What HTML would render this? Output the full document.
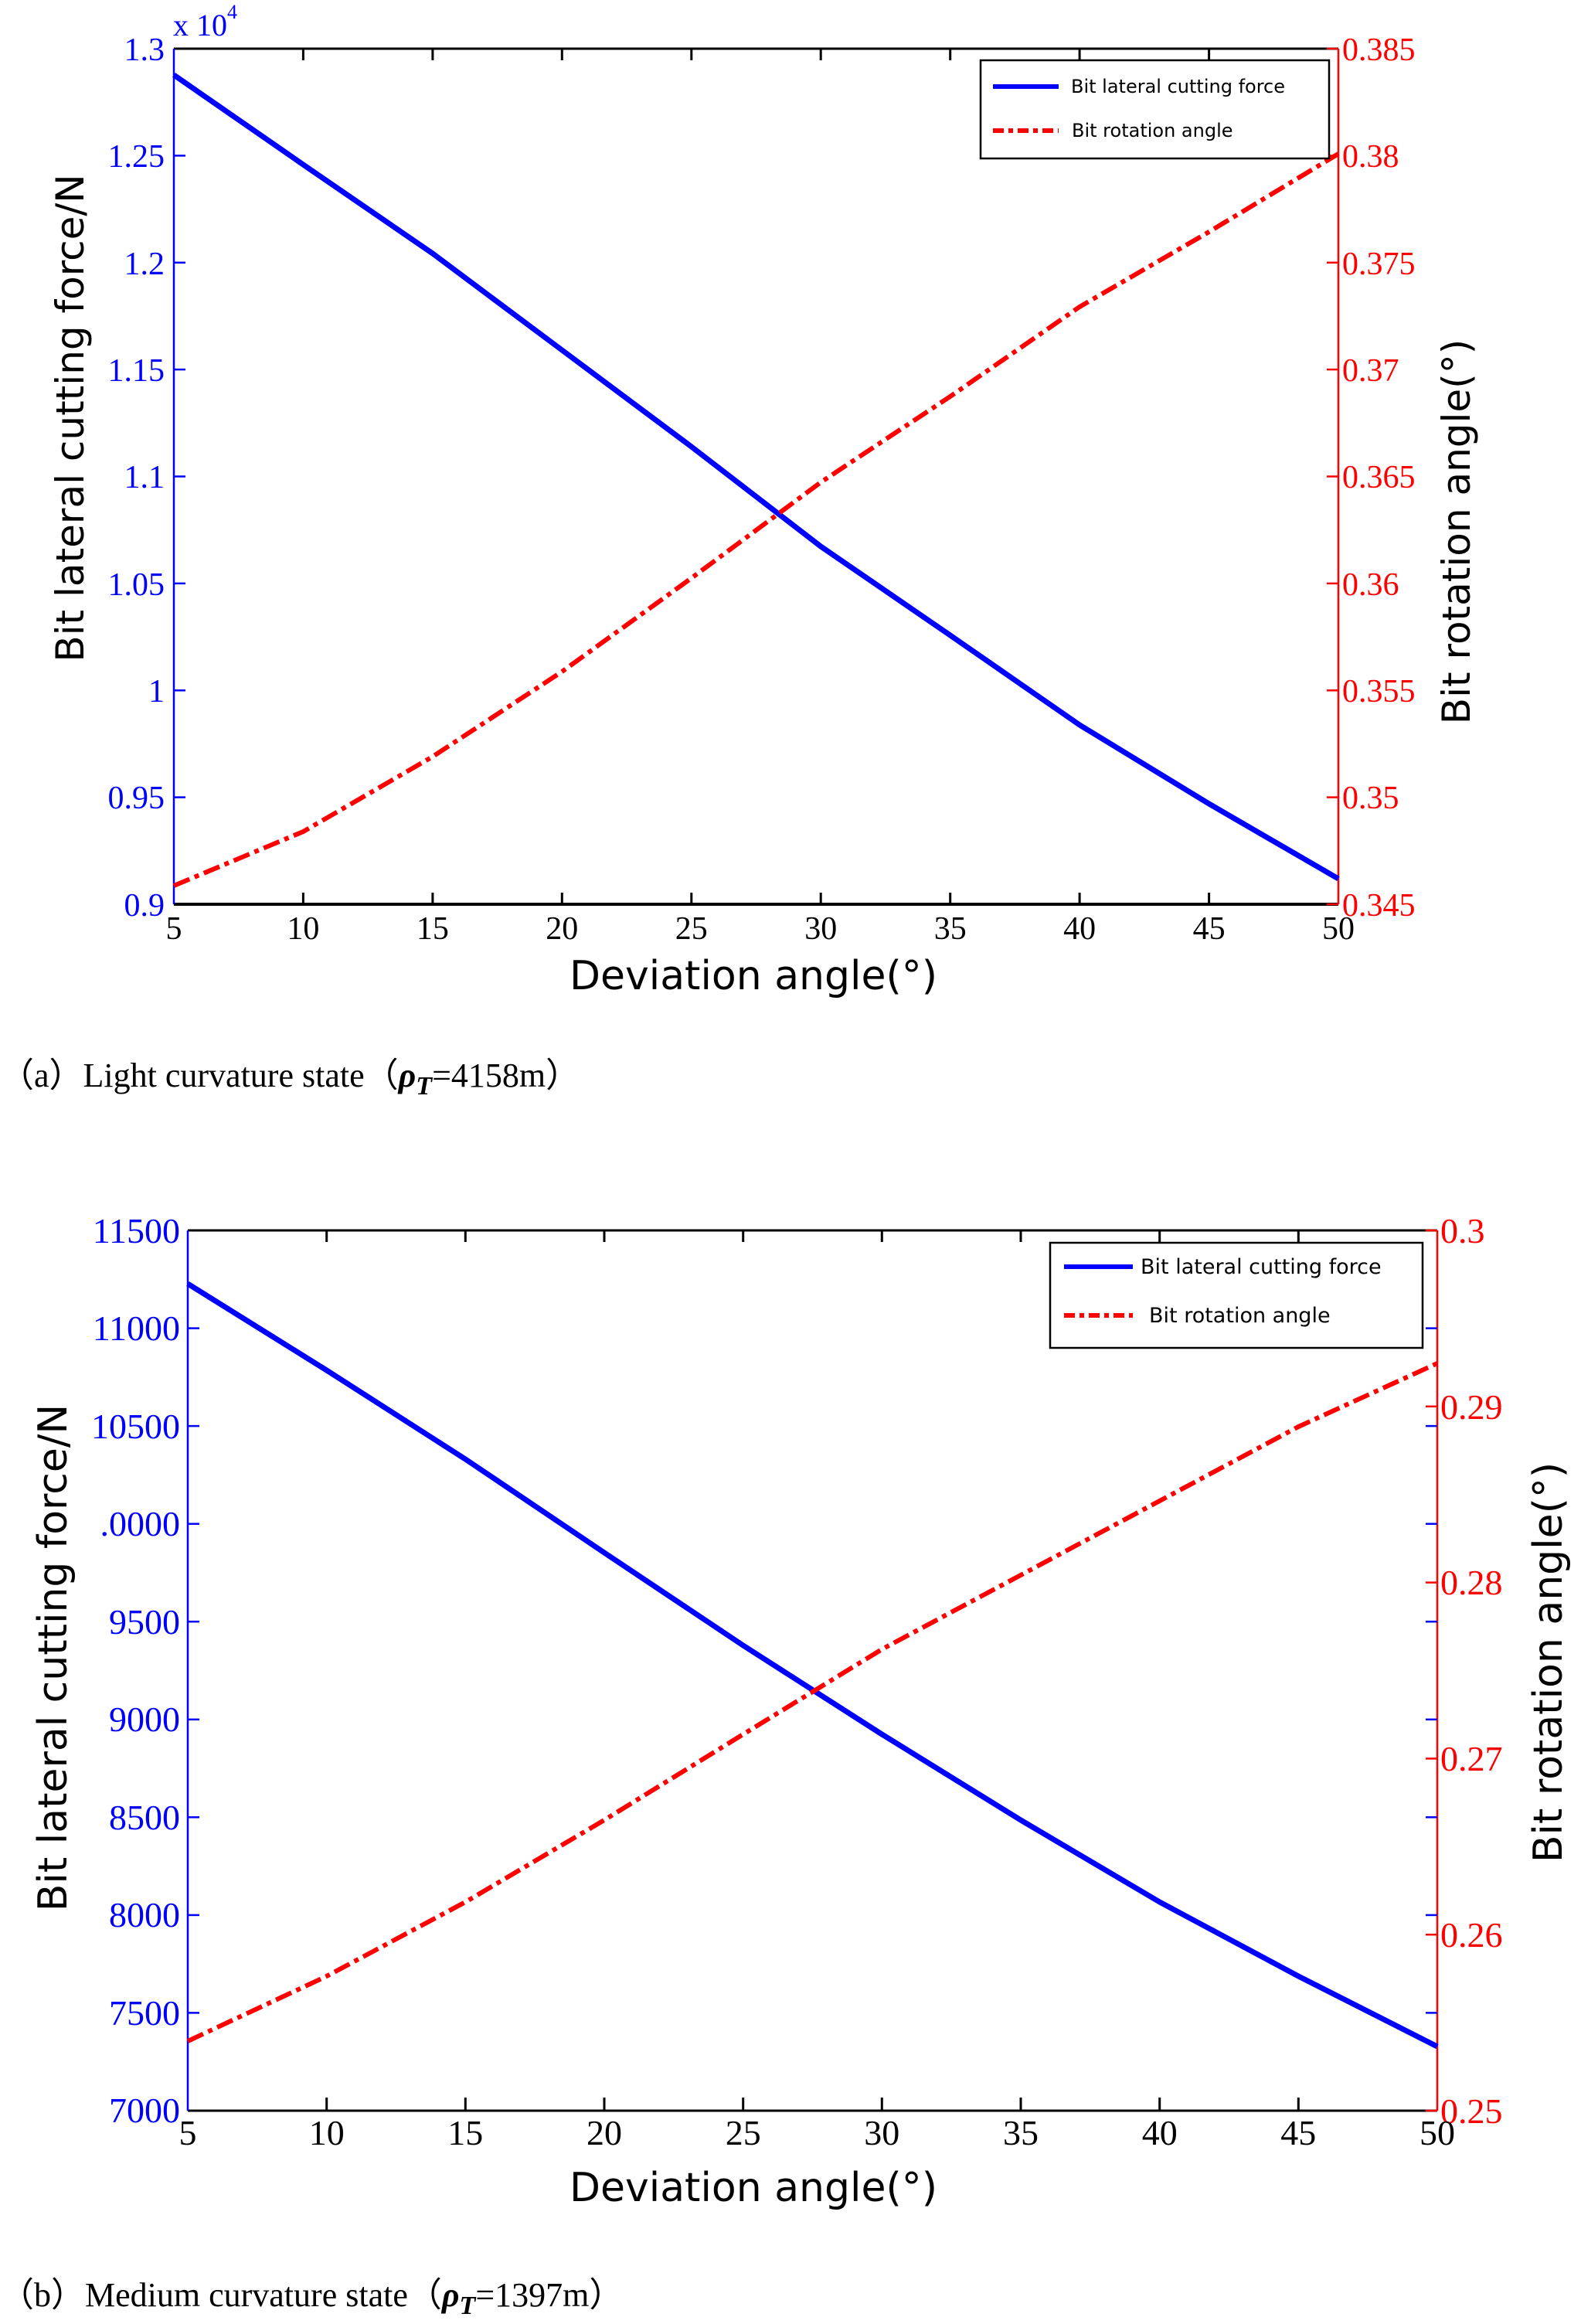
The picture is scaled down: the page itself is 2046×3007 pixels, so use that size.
<!DOCTYPE html>
<html><head><meta charset="utf-8"><style>
html,body{margin:0;padding:0;background:#fff;}
svg{display:block;}
.ser{font-family:"Liberation Serif",serif;}
.san{font-family:"DejaVu Sans","Liberation Sans",sans-serif;}
</style></head><body>
<svg width="2046" height="3007" viewBox="0 0 2046 3007" xmlns="http://www.w3.org/2000/svg">
<rect width="2046" height="3007" fill="#fff"/>

<!-- ===== Chart A ===== -->
<g>
<!-- axes -->
<line x1="225" y1="63" x2="1732" y2="63" stroke="#000" stroke-width="3"/>
<line x1="225" y1="1170" x2="1732" y2="1170" stroke="#000" stroke-width="4"/>
<line x1="225" y1="63" x2="225" y2="1170" stroke="#00f" stroke-width="2.5"/>
<line x1="1732" y1="63" x2="1732" y2="1170" stroke="#f00" stroke-width="2.5"/>
<!-- x ticks -->
<g stroke="#000" stroke-width="3">
<line x1="392.4" y1="63" x2="392.4" y2="78"/><line x1="559.9" y1="63" x2="559.9" y2="78"/><line x1="727.3" y1="63" x2="727.3" y2="78"/><line x1="894.8" y1="63" x2="894.8" y2="78"/><line x1="1062.2" y1="63" x2="1062.2" y2="78"/><line x1="1229.7" y1="63" x2="1229.7" y2="78"/><line x1="1397.1" y1="63" x2="1397.1" y2="78"/><line x1="1564.6" y1="63" x2="1564.6" y2="78"/>
<line x1="392.4" y1="1170" x2="392.4" y2="1155"/><line x1="559.9" y1="1170" x2="559.9" y2="1155"/><line x1="727.3" y1="1170" x2="727.3" y2="1155"/><line x1="894.8" y1="1170" x2="894.8" y2="1155"/><line x1="1062.2" y1="1170" x2="1062.2" y2="1155"/><line x1="1229.7" y1="1170" x2="1229.7" y2="1155"/><line x1="1397.1" y1="1170" x2="1397.1" y2="1155"/><line x1="1564.6" y1="1170" x2="1564.6" y2="1155"/>
</g>
<g stroke="#00f" stroke-width="2.5">
<line x1="225" y1="201.4" x2="240" y2="201.4"/><line x1="225" y1="339.8" x2="240" y2="339.8"/><line x1="225" y1="478.1" x2="240" y2="478.1"/><line x1="225" y1="616.5" x2="240" y2="616.5"/><line x1="225" y1="754.9" x2="240" y2="754.9"/><line x1="225" y1="893.3" x2="240" y2="893.3"/><line x1="225" y1="1031.6" x2="240" y2="1031.6"/>
</g>
<g stroke="#f00" stroke-width="2.5">
<line x1="1732" y1="63" x2="1717" y2="63"/><line x1="1732" y1="201.4" x2="1717" y2="201.4"/><line x1="1732" y1="339.8" x2="1717" y2="339.8"/><line x1="1732" y1="478.1" x2="1717" y2="478.1"/><line x1="1732" y1="616.5" x2="1717" y2="616.5"/><line x1="1732" y1="754.9" x2="1717" y2="754.9"/><line x1="1732" y1="893.3" x2="1717" y2="893.3"/><line x1="1732" y1="1031.6" x2="1717" y2="1031.6"/><line x1="1732" y1="1170" x2="1717" y2="1170"/>
</g>
<!-- curves -->
<polyline fill="none" stroke="#00f" stroke-width="7" points="225,97 392.4,213 559.9,328 727.3,453 894.8,578 1062.2,707 1229.7,822 1397.1,938 1564.6,1040 1732,1137"/>
<polyline fill="none" stroke="#f00" stroke-width="6" stroke-dasharray="22,7,6,7" points="225,1146 392.4,1076 559.9,979 727.3,869 894.8,748 1062.2,624 1229.7,513 1397.1,397 1564.6,300 1732,199"/>
<!-- left labels -->
<g class="ser" fill="#00f" font-size="42" text-anchor="end">
<text x="213" y="78">1.3</text><text x="213" y="216">1.25</text><text x="213" y="355">1.2</text><text x="213" y="493">1.15</text><text x="213" y="631">1.1</text><text x="213" y="770">1.05</text><text x="213" y="908">1</text><text x="213" y="1046">0.95</text><text x="213" y="1185">0.9</text>
</g>
<text class="ser" x="224" y="46" fill="#00f" font-size="40">x 10<tspan dy="-22" font-size="26">4</tspan></text>
<g class="ser" fill="#f00" font-size="42">
<text x="1737" y="78">0.385</text><text x="1737" y="216">0.38</text><text x="1737" y="355">0.375</text><text x="1737" y="493">0.37</text><text x="1737" y="631">0.365</text><text x="1737" y="770">0.36</text><text x="1737" y="908">0.355</text><text x="1737" y="1046">0.35</text><text x="1737" y="1185">0.345</text>
</g>
<g class="ser" fill="#000" font-size="42" text-anchor="middle">
<text x="225" y="1215">5</text><text x="392.4" y="1215">10</text><text x="559.9" y="1215">15</text><text x="727.3" y="1215">20</text><text x="894.8" y="1215">25</text><text x="1062.2" y="1215">30</text><text x="1229.7" y="1215">35</text><text x="1397.1" y="1215">40</text><text x="1564.6" y="1215">45</text><text x="1732" y="1215">50</text>
</g>
<text class="san" x="975" y="1280" font-size="52" text-anchor="middle" fill="#000">Deviation angle(°)</text>
<text class="san" transform="translate(108,541) rotate(-90)" font-size="50" text-anchor="middle" fill="#000">Bit lateral cutting force/N</text>
<text class="san" transform="translate(1902,688) rotate(-90)" font-size="50" text-anchor="middle" fill="#000">Bit rotation angle(°)</text>
<!-- legend -->
<rect x="1269" y="78" width="451" height="127" fill="#fff" stroke="#000" stroke-width="2.5"/>
<line x1="1285" y1="112" x2="1370" y2="112" stroke="#00f" stroke-width="6"/>
<line x1="1285" y1="169" x2="1370" y2="169" stroke="#f00" stroke-width="6" stroke-dasharray="14,6,6,6"/>
<text class="san" x="1386" y="120" font-size="24" fill="#000">Bit lateral cutting force</text>
<text class="san" x="1387" y="177" font-size="24" fill="#000">Bit rotation angle</text>
<text class="ser" x="0" y="1406" font-size="44" fill="#000">（a）Light curvature state（<tspan font-weight="bold" font-style="italic">ρ<tspan dy="10" font-size="34">T</tspan></tspan><tspan dy="-10">=4158m）</tspan></text>
</g>

<!-- ===== Chart B ===== -->
<g>
<line x1="243" y1="1592" x2="1860" y2="1592" stroke="#000" stroke-width="3"/>
<line x1="243" y1="2731" x2="1860" y2="2731" stroke="#000" stroke-width="3"/>
<line x1="243" y1="1592" x2="243" y2="2731" stroke="#00f" stroke-width="2.5"/>
<line x1="1860" y1="1592" x2="1860" y2="2731" stroke="#f00" stroke-width="2.5"/>
<g stroke="#000" stroke-width="3">
<line x1="422.7" y1="1592" x2="422.7" y2="1607"/><line x1="602.3" y1="1592" x2="602.3" y2="1607"/><line x1="782" y1="1592" x2="782" y2="1607"/><line x1="961.7" y1="1592" x2="961.7" y2="1607"/><line x1="1141.3" y1="1592" x2="1141.3" y2="1607"/><line x1="1321" y1="1592" x2="1321" y2="1607"/><line x1="1500.7" y1="1592" x2="1500.7" y2="1607"/><line x1="1680.3" y1="1592" x2="1680.3" y2="1607"/>
<line x1="422.7" y1="2731" x2="422.7" y2="2714"/><line x1="602.3" y1="2731" x2="602.3" y2="2714"/><line x1="782" y1="2731" x2="782" y2="2714"/><line x1="961.7" y1="2731" x2="961.7" y2="2714"/><line x1="1141.3" y1="2731" x2="1141.3" y2="2714"/><line x1="1321" y1="2731" x2="1321" y2="2714"/><line x1="1500.7" y1="2731" x2="1500.7" y2="2714"/><line x1="1680.3" y1="2731" x2="1680.3" y2="2714"/>
</g>
<g stroke="#00f" stroke-width="2.5">
<line x1="243" y1="1718.6" x2="258" y2="1718.6"/><line x1="243" y1="1845.1" x2="258" y2="1845.1"/><line x1="243" y1="1971.7" x2="258" y2="1971.7"/><line x1="243" y1="2098.2" x2="258" y2="2098.2"/><line x1="243" y1="2224.8" x2="258" y2="2224.8"/><line x1="243" y1="2351.3" x2="258" y2="2351.3"/><line x1="243" y1="2477.9" x2="258" y2="2477.9"/><line x1="243" y1="2604.4" x2="258" y2="2604.4"/>
<line x1="1860" y1="1718.6" x2="1845" y2="1718.6"/><line x1="1860" y1="1845.1" x2="1845" y2="1845.1"/><line x1="1860" y1="1971.7" x2="1845" y2="1971.7"/><line x1="1860" y1="2098.2" x2="1845" y2="2098.2"/><line x1="1860" y1="2224.8" x2="1845" y2="2224.8"/><line x1="1860" y1="2351.3" x2="1845" y2="2351.3"/><line x1="1860" y1="2477.9" x2="1845" y2="2477.9"/><line x1="1860" y1="2604.4" x2="1845" y2="2604.4"/>
</g>
<g stroke="#f00" stroke-width="2.5">
<line x1="1860" y1="1592" x2="1845" y2="1592"/><line x1="1860" y1="1819.8" x2="1845" y2="1819.8"/><line x1="1860" y1="2047.6" x2="1845" y2="2047.6"/><line x1="1860" y1="2275.4" x2="1845" y2="2275.4"/><line x1="1860" y1="2503.2" x2="1845" y2="2503.2"/><line x1="1860" y1="2731" x2="1845" y2="2731"/>
</g>
<polyline fill="none" stroke="#00f" stroke-width="7" points="243,1661 422.7,1773 602.3,1888 782,2009 961.7,2129 1141.3,2244 1321,2355 1500.7,2461 1680.3,2557 1860,2648"/>
<polyline fill="none" stroke="#f00" stroke-width="6" stroke-dasharray="22,7,6,7" points="243,2641 422.7,2557 602.3,2461 782,2355 961.7,2244 1141.3,2134 1321,2038 1500.7,1942 1680.3,1846 1860,1764"/>
<g class="ser" fill="#00f" font-size="46" text-anchor="end">
<text x="233" y="1608">11500</text><text x="233" y="1734">11000</text><text x="233" y="1861">10500</text><text x="233" y="1987">.0000</text><text x="233" y="2114">9500</text><text x="233" y="2240">9000</text><text x="233" y="2367">8500</text><text x="233" y="2493">8000</text><text x="233" y="2620">7500</text><text x="233" y="2746">7000</text>
</g>
<g class="ser" fill="#f00" font-size="46">
<text x="1864" y="1608">0.3</text><text x="1864" y="1836">0.29</text><text x="1864" y="2063">0.28</text><text x="1864" y="2291">0.27</text><text x="1864" y="2519">0.26</text><text x="1864" y="2747">0.25</text>
</g>
<g class="ser" fill="#000" font-size="46" text-anchor="middle">
<text x="243" y="2775">5</text><text x="422.7" y="2775">10</text><text x="602.3" y="2775">15</text><text x="782" y="2775">20</text><text x="961.7" y="2775">25</text><text x="1141.3" y="2775">30</text><text x="1321" y="2775">35</text><text x="1500.7" y="2775">40</text><text x="1680.3" y="2775">45</text><text x="1860" y="2775">50</text>
</g>
<text class="san" x="975" y="2848" font-size="52" text-anchor="middle" fill="#000">Deviation angle(°)</text>
<text class="san" transform="translate(86,2145) rotate(-90)" font-size="52" text-anchor="middle" fill="#000">Bit lateral cutting force/N</text>
<text class="san" transform="translate(2021,2151) rotate(-90)" font-size="52" text-anchor="middle" fill="#000">Bit rotation angle(°)</text>
<rect x="1359" y="1608" width="482" height="136" fill="#fff" stroke="#000" stroke-width="2.5"/>
<line x1="1377" y1="1639" x2="1466" y2="1639" stroke="#00f" stroke-width="6"/>
<line x1="1377" y1="1702" x2="1466" y2="1702" stroke="#f00" stroke-width="6" stroke-dasharray="14,6,6,6"/>
<text class="san" x="1476" y="1648" font-size="27" fill="#000">Bit lateral cutting force</text>
<text class="san" x="1487" y="1711" font-size="27" fill="#000">Bit rotation angle</text>
<text class="ser" x="0" y="2984" font-size="44" fill="#000">（b）Medium curvature state（<tspan font-weight="bold" font-style="italic">ρ<tspan dy="10" font-size="34">T</tspan></tspan><tspan dy="-10">=1397m）</tspan></text>
</g>
</svg>
</body></html>
